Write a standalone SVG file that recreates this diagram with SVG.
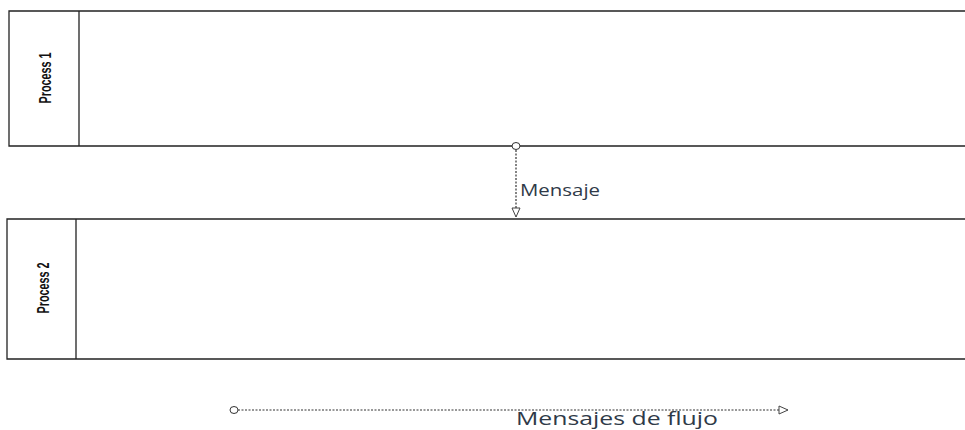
<svg xmlns="http://www.w3.org/2000/svg" width="965" height="430" viewBox="0 0 965 430">
  <style>
    .pool { fill: none; stroke: #222; stroke-width: 1.3; }
    .poolLabel { font-family: "Liberation Sans Narrow", "Liberation Sans", sans-serif; font-size: 16px; font-weight: bold; fill: #111; text-anchor: middle; }
    .msg { fill: none; stroke: #333; stroke-width: 1.2; stroke-dasharray: 2 1.5; }
    .msgLabel { font-family: "Open Sans", "Liberation Sans", sans-serif; fill: #2f3a48; }
  </style>
  <defs>
    <marker id="openArrow" markerWidth="12" markerHeight="10" refX="10" refY="5" orient="auto" markerUnits="userSpaceOnUse">
      <path d="M1,1 L10,5 L1,9 Z" fill="#fff" stroke="#444" stroke-width="1"/>
    </marker>
  </defs>

  <rect width="965" height="430" fill="#fff"/>

  <g id="pool1">
    <path class="pool" d="M965,11 H9 V146 H965 M79,11 V146"/>
    <text class="poolLabel" transform="translate(51,78) rotate(-90)" textLength="51" lengthAdjust="spacingAndGlyphs">Process 1</text>
  </g>

  <g id="pool2">
    <path class="pool" d="M965,219 H7 V359 H965 M76,219 V359"/>
    <text class="poolLabel" transform="translate(49,288) rotate(-90)" textLength="51" lengthAdjust="spacingAndGlyphs">Process 2</text>
  </g>

  <g id="connectors">
    <line class="msg" x1="516" y1="150" x2="516" y2="217" marker-end="url(#openArrow)"/>
    <ellipse cx="516" cy="146" rx="4" ry="3.5" fill="#fff" stroke="#333" stroke-width="1"/>
    <text class="msgLabel" x="520" y="196" font-size="16" textLength="80" lengthAdjust="spacingAndGlyphs">Mensaje</text>
  </g>

  <g id="legend">
    <line class="msg" x1="238" y1="410" x2="788" y2="410" marker-end="url(#openArrow)"/>
    <ellipse cx="234" cy="410" rx="4" ry="3.5" fill="#fff" stroke="#333" stroke-width="1"/>
    <text class="msgLabel" x="516" y="425" font-size="18" textLength="202" lengthAdjust="spacingAndGlyphs">Mensajes de flujo</text>
  </g>
</svg>
